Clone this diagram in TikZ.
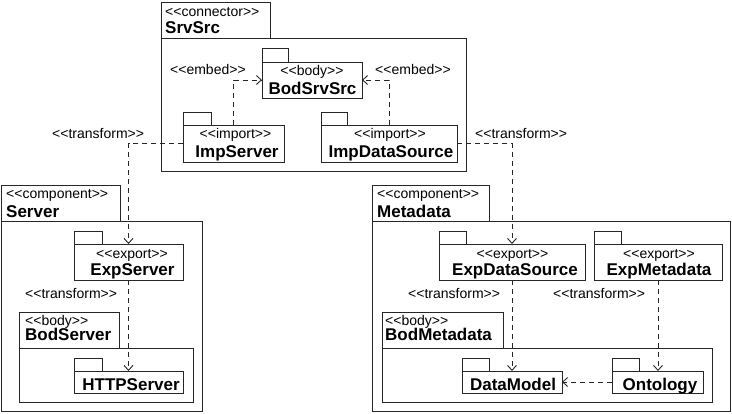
\documentclass[tikz,border=0pt]{standalone}
\usepackage{fontspec}
\newfontfamily\umlfont{Liberation Sans}
\usetikzlibrary{arrows.meta}
\newcommand\stereo[1]{<\kern0pt<#1>\kern0pt>}
\tikzset{
  pkg/.style={draw=black!85, line width=0.9pt, fill=white, inner sep=0pt, outer sep=0pt},
  st/.style={font=\umlfont\fontsize{14}{16}\selectfont, inner sep=0pt},
  nm/.style={font=\umlfont\bfseries\fontsize{17}{20}\selectfont, inner sep=0pt},
  dep/.style={draw=black!85, line width=0.9pt, dash pattern=on 5pt off 4pt,
    -{Straight Barb[length=5pt,width=9pt]}},
  lnk/.style={draw=black!85, line width=0.9pt, dash pattern=on 5pt off 4pt}
}
\begin{document}
\begin{tikzpicture}[x=1pt,y=-1pt]
\useasboundingbox (0,0) rectangle (732,413);

% connector SrvSrc
\node[pkg, anchor=north west, minimum width=305, minimum height=133] (srvsrc) at (161,38) {};
\node[pkg, anchor=south west, minimum width=109, minimum height=36] (srvsrctab) at (srvsrc.north west) {};
\node[st, anchor=base west] (srvsrcst) at (165,16) {\stereo{connector}};
\node[nm, anchor=base west] (srvsrcnm) at (165,33) {SrvSrc};

\node[pkg, anchor=north west, minimum width=100, minimum height=36] (bodsrvsrc) at (262,62) {};
\node[pkg, anchor=south west, minimum width=26, minimum height=14] (bodsrvsrctab) at (bodsrvsrc.north west) {};
\node[st, anchor=base] (bodsrvsrcst) at (312,75) {\stereo{body}};
\node[nm, anchor=base] (bodsrvsrcnm) at (312.5,94) {BodSrvSrc};

\node[pkg, anchor=north west, minimum width=101, minimum height=37] (impserver) at (183,125) {};
\node[pkg, anchor=south west, minimum width=28, minimum height=13] (impservertab) at (impserver.north west) {};
\node[st, anchor=base] (impserverst) at (235.5,138) {\stereo{import}};
\node[nm, anchor=base] (impservernm) at (237,157) {ImpServer};

\node[pkg, anchor=north west, minimum width=136, minimum height=37] (impdatasource) at (321,125) {};
\node[pkg, anchor=south west, minimum width=26, minimum height=13] (impdatasourcetab) at (impdatasource.north west) {};
\node[st, anchor=base] (impdatasourcest) at (390,138) {\stereo{import}};
\node[nm, anchor=base] (impdatasourcenm) at (391,157) {ImpDataSource};

% component Server
\node[pkg, anchor=north west, minimum width=201, minimum height=190] (server) at (1,221) {};
\node[pkg, anchor=south west, minimum width=119, minimum height=36] (servertab) at (server.north west) {};
\node[st, anchor=base west] (serverst) at (6,198) {\stereo{component}};
\node[nm, anchor=base west] (servernm) at (6,217) {Server};

\node[pkg, anchor=north west, minimum width=109, minimum height=36] (expserver) at (74,244) {};
\node[pkg, anchor=south west, minimum width=28, minimum height=13] (expservertab) at (expserver.north west) {};
\node[st, anchor=base] (expserverst) at (132,258) {\stereo{export}};
\node[nm, anchor=base] (expservernm) at (132.5,275) {ExpServer};

\node[pkg, anchor=north west, minimum width=174, minimum height=54] (bodserver) at (19,348) {};
\node[pkg, anchor=south west, minimum width=100, minimum height=36] (bodservertab) at (bodserver.north west) {};
\node[st, anchor=base west] (bodserverst) at (25,325) {\stereo{body}};
\node[nm, anchor=base west] (bodservernm) at (25,340) {BodServer};

\node[pkg, anchor=north west, minimum width=109, minimum height=22] (httpserver) at (74,371) {};
\node[pkg, anchor=south west, minimum width=28, minimum height=13] (httpservertab) at (httpserver.north west) {};
\node[nm, anchor=base] (httpservernm) at (131,390) {HTTPServer};

% component Metadata
\node[pkg, anchor=north west, minimum width=358, minimum height=190] (metadata) at (372,221) {};
\node[pkg, anchor=south west, minimum width=117, minimum height=36] (metadatatab) at (metadata.north west) {};
\node[st, anchor=base west] (metadatast) at (377,198) {\stereo{component}};
\node[nm, anchor=base west] (metadatanm) at (377,217) {Metadata};

\node[pkg, anchor=north west, minimum width=146, minimum height=36] (expdatasource) at (439,244) {};
\node[pkg, anchor=south west, minimum width=27, minimum height=13] (expdatasourcetab) at (expdatasource.north west) {};
\node[st, anchor=base] (expdatasourcest) at (512.5,258) {\stereo{export}};
\node[nm, anchor=base] (expdatasourcenm) at (515,275) {ExpDataSource};

\node[pkg, anchor=north west, minimum width=128, minimum height=36] (expmetadata) at (594,244) {};
\node[pkg, anchor=south west, minimum width=27, minimum height=13] (expmetadatatab) at (expmetadata.north west) {};
\node[st, anchor=base] (expmetadatast) at (659,258) {\stereo{export}};
\node[nm, anchor=base] (expmetadatanm) at (659,275) {ExpMetadata};

\node[pkg, anchor=north west, minimum width=330, minimum height=54] (bodmetadata) at (382,348) {};
\node[pkg, anchor=south west, minimum width=121, minimum height=36] (bodmetadatatab) at (bodmetadata.north west) {};
\node[st, anchor=base west] (bodmetadatast) at (385,325) {\stereo{body}};
\node[nm, anchor=base west] (bodmetadatanm) at (385,340) {BodMetadata};

\node[pkg, anchor=north west, minimum width=100, minimum height=22] (datamodel) at (462,371) {};
\node[pkg, anchor=south west, minimum width=27, minimum height=13] (datamodeltab) at (datamodel.north west) {};
\node[nm, anchor=base] (datamodelnm) at (513,390) {DataModel};

\node[pkg, anchor=north west, minimum width=91, minimum height=22] (ontology) at (612,371) {};
\node[pkg, anchor=south west, minimum width=27, minimum height=13] (ontologytab) at (ontology.north west) {};
\node[nm, anchor=base] (ontologynm) at (660,390) {Ontology};

% dependency labels
\node[st, anchor=base west] (lbembedl) at (170,74) {\stereo{embed}};
\node[st, anchor=base west] (lbembedr) at (375,74) {\stereo{embed}};
\node[st, anchor=base west] (lbtrl) at (52,138) {\stereo{transform}};
\node[st, anchor=base west] (lbtrr) at (475,138) {\stereo{transform}};
\node[st, anchor=base west] (lbtrs) at (25,298) {\stereo{transform}};
\node[st, anchor=base west] (lbtrm1) at (408,298) {\stereo{transform}};
\node[st, anchor=base west] (lbtrm2) at (553,298) {\stereo{transform}};

% dependencies
\draw[dep] (impserver.north) |- (bodsrvsrc.west);
\draw[dep] (impdatasource.north) |- (bodsrvsrc.east);
\draw[dep] (impserver.west) -| (expserver.north);
\draw[dep] (impdatasource.east) -| (expdatasource.north);
\draw[dep] (expserver.south) -- (httpserver.north);
\draw[dep] (expdatasource.south) -- (datamodel.north -| expdatasource.south);
\draw[dep] (expmetadata.south) -- (ontology.north -| expmetadata.south);
\draw[dep] (ontology.west) -- (datamodel.east);
\end{tikzpicture}
\end{document}
